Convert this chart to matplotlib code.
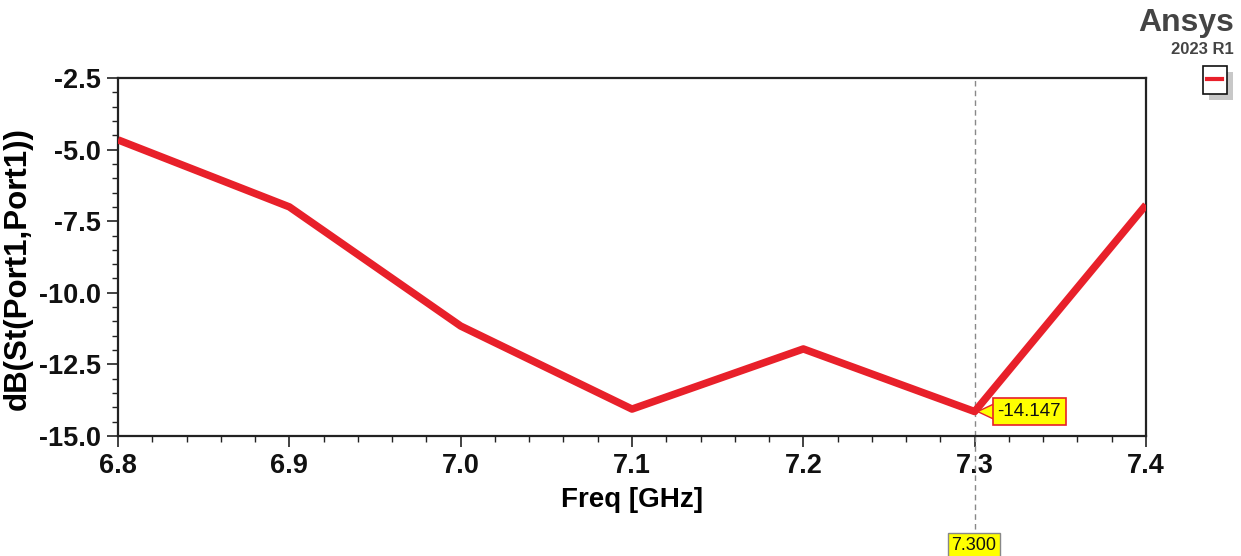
import matplotlib
matplotlib.use("Agg")
import matplotlib.pyplot as plt
import matplotlib.transforms as mtransforms
from matplotlib.ticker import MultipleLocator, FormatStrFormatter
from matplotlib.patches import Polygon, Rectangle

freq = [6.8, 6.9, 7.0, 7.1, 7.2, 7.3, 7.4]
s11_db = [-4.66, -7.0, -11.16, -14.06, -11.96, -14.147, -6.93]
marker_x = 7.3
marker_y = -14.147

FONT = ['Liberation Sans', 'DejaVu Sans']
W, H = 1241, 556

fig = plt.figure(figsize=(12.41, 5.56), dpi=100)
ax = fig.add_axes([118/W, 1-436/H, (1146-118)/W, (436-78)/H])

ax.plot(freq, s11_db, color='#E8202A', lw=5.4, solid_capstyle='butt', zorder=3)

ax.set_xlim(6.8, 7.4)
ax.set_ylim(-15.0, -2.5)
ax.xaxis.set_major_locator(MultipleLocator(0.1))
ax.xaxis.set_minor_locator(MultipleLocator(0.02))
ax.yaxis.set_major_locator(MultipleLocator(2.5))
ax.yaxis.set_minor_locator(MultipleLocator(0.5))
ax.xaxis.set_major_formatter(FormatStrFormatter('%.1f'))
ax.yaxis.set_major_formatter(FormatStrFormatter('%.1f'))
ax.tick_params(which='major', direction='out', length=8, width=1.2, colors='#222222', pad=4)
ax.tick_params(which='minor', direction='out', length=4, width=1.0, colors='#222222')
for lab in ax.get_xticklabels() + ax.get_yticklabels():
    lab.set_family(FONT)
    lab.set_fontsize(19.5)
    lab.set_fontweight('bold')
    lab.set_color('#111111')
for sp in ax.spines.values():
    sp.set_linewidth(1.6)
    sp.set_color('#222222')

ax.set_xlabel('Freq [GHz]', family=FONT, fontsize=20, fontweight='bold', labelpad=6)
ax.set_ylabel('dB(St(Port1,Port1))', family=FONT, fontsize=22.5, fontweight='bold')
ax.yaxis.set_label_coords(-(118-33)/(1146-118), (436-269)/(436-78))

# cursor line
ax.axvline(marker_x, color='#888888', lw=1.0, ls=(0, (4, 3)), zorder=2)
ax.plot([marker_x, marker_x], [-15.0, -18.3], color='#888888', lw=1.0, ls=(0, (4, 3)),
        clip_on=False, zorder=2)

# marker label with pointer
ax.annotate(f'{marker_y:.3f}', xy=(marker_x, marker_y), xytext=(16.5, 0),
            textcoords='offset points', ha='left', va='center',
            family=FONT, fontsize=13.5, color='#111111',
            bbox=dict(boxstyle='square,pad=0.25', fc='#FFFF00', ec='#E8202A', lw=1.2),
            zorder=6)
px0, py0 = ax.transData.transform((marker_x, marker_y))
pointer = Polygon([[px0 + 3, py0], [px0 + 20, py0 + 8], [px0 + 20, py0 - 8]], closed=True,
                  fc='#FFFF00', ec='#E8202A', lw=1.0, zorder=5, clip_on=False,
                  transform=mtransforms.IdentityTransform())
ax.add_artist(pointer)

# x cursor value box
fig.text(974/W, 1-545/H, f'{marker_x:.3f}', ha='center', va='center',
         family=FONT, fontsize=13, color='#111111',
         bbox=dict(boxstyle='square,pad=0.2', fc='#FFFF00', ec='#888888', lw=1.0))

# Ansys branding
fig.text(1234/W, 1-23/H, 'Ansys', ha='right', va='center',
         family=FONT, fontsize=23, fontweight='bold', color='#444444')
fig.text(1234/W, 1-50/H, '2023 R1', ha='right', va='center',
         family=FONT, fontsize=12, fontweight='bold', color='#444444')

# legend mini box with shadow
fig.patches.append(Rectangle((1209/W, 1-100/H), 24/W, 28/H, transform=fig.transFigure,
                             fc='#C8C8C8', ec='none'))
fig.patches.append(Rectangle((1203/W, 1-94/H), 24/W, 28/H, transform=fig.transFigure,
                             fc='white', ec='#111111', lw=1.2))
fig.lines.append(plt.Line2D([1207/W, 1222/W], [1-79/H, 1-79/H], transform=fig.transFigure,
                            color='#E8202A', lw=3))

fig.savefig('out.png', dpi=100)
